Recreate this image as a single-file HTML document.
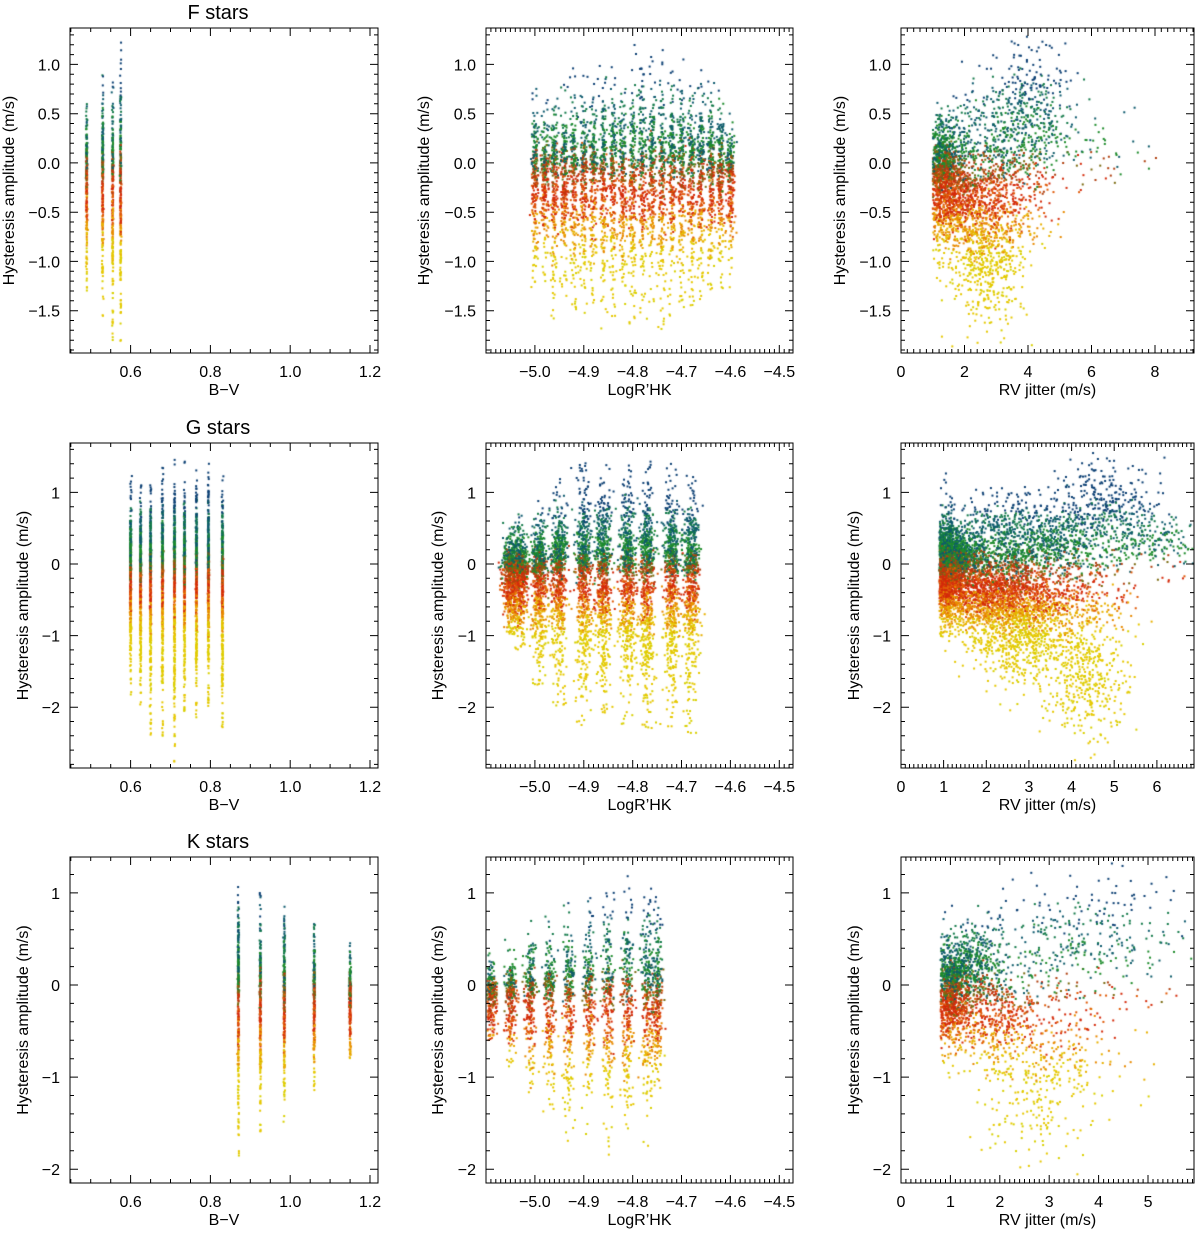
<!DOCTYPE html>
<html><head><meta charset="utf-8">
<style>
html,body{margin:0;padding:0;background:#fff;width:1200px;height:1237px;overflow:hidden}
#wrap{position:relative;width:1200px;height:1237px}
svg,canvas{position:absolute;left:0;top:0}
text{font-family:"Liberation Sans",sans-serif;fill:#000}
</style></head>
<body>
<div id="wrap">
<canvas id="pts" width="1200" height="1237"></canvas>
<svg id="ax" width="1200" height="1237"></svg>
</div>
<script>
// ---------- data ----------
const fBV=[0.49,0.53,0.555,0.575];
const fBVmax=[0.75,1.0,1.1,1.3];
const fBVmin=[-1.35,-1.6,-1.85,-1.9];
const gBV=[0.6,0.625,0.65,0.68,0.71,0.735,0.765,0.795,0.83];
const gBVmax=[1.25,1.2,1.3,1.42,1.47,1.47,1.42,1.48,1.3];
const gBVmin=[-1.9,-2.0,-2.4,-2.4,-2.8,-2.1,-2.2,-2.0,-2.3];
const kBV=[0.87,0.925,0.985,1.06,1.15];
const kBVmax=[1.25,1.05,0.98,0.7,0.53];
const kBVmin=[-1.95,-1.75,-1.55,-1.15,-0.8];
const fLR=[-5.0,-4.98,-4.96,-4.94,-4.92,-4.9,-4.88,-4.86,-4.84,-4.82,-4.8,-4.78,-4.76,-4.74,-4.72,-4.7,-4.68,-4.66,-4.64,-4.62,-4.6];
const fLRmax=[0.8,0.75,0.9,0.8,1.0,0.9,1.0,1.05,1.1,1.0,1.2,1.1,1.2,1.3,1.1,1.15,1.0,1.1,1.05,0.9,0.55];
const fLRmin=[-1.3,-1.2,-1.6,-1.4,-1.5,-1.6,-1.5,-1.7,-1.6,-1.5,-1.7,-1.6,-1.5,-1.7,-1.6,-1.5,-1.6,-1.4,-1.5,-1.3,-1.3];
const gLR=[-5.05,-5.03,-4.99,-4.95,-4.9,-4.86,-4.81,-4.77,-4.72,-4.68];
const gLRmax=[0.6,0.7,0.9,1.2,1.45,1.45,1.4,1.45,1.45,1.3];
const gLRmin=[-1.0,-1.2,-1.7,-2.0,-2.3,-2.1,-2.3,-2.4,-2.3,-2.4];
const kLR=[-5.17,-5.13,-5.09,-5.05,-5.01,-4.97,-4.93,-4.89,-4.85,-4.81,-4.77,-4.75];
const kLRmax=[0.2,0.3,0.4,0.5,0.7,0.8,0.9,1.0,1.1,1.2,1.25,1.0];
const kLRmin=[-0.3,-0.5,-0.6,-0.9,-1.2,-1.5,-1.7,-1.7,-1.9,-1.9,-1.8,-1.2];
const fJx=[1.5,2.4,2.8,3.5,4.2,6.5,1.3];
const fJy=[-0.2,-0.45,-1.0,0.2,0.7,0.1,0.0];
const fJsx=[0.35,0.8,0.55,1.0,0.6,1.0,0.2];
const fJsy=[0.3,0.3,0.35,0.33,0.25,0.15,0.2];
const fJn=[800,900,450,700,150,40,400];
const gJx=[1.1,2.0,3.2,2.8,4.3,3.0,4.8,6.0,1.3];
const gJy=[-0.1,-0.4,-0.6,-1.1,-1.6,0.3,0.8,0.3,0.1];
const gJsx=[0.2,0.7,0.9,0.5,0.5,1.2,0.6,0.5,0.3];
const gJsy=[0.3,0.3,0.3,0.3,0.4,0.3,0.3,0.2,0.15];
const gJn=[1500,1500,1000,350,400,1500,300,150,600];
const kJx=[1.0,1.4,1.8,3.0,2.7,3.2,4.5];
const kJy=[-0.1,0.2,-0.35,-0.7,-1.3,0.4,0.6];
const kJsx=[0.2,0.3,0.5,0.8,0.6,1.0,0.8];
const kJsy=[0.25,0.2,0.25,0.35,0.3,0.35,0.35];
const kJn=[800,500,500,300,120,300,100];
const bvTicks=[0.6,0.8,1.0,1.2];
const lrTicks=[-5.0,-4.9,-4.8,-4.7,-4.6,-4.5];
const fRVTicks=[0,2,4,6,8];
const gRVTicks=[0,1,2,3,4,5,6];
const kRVTicks=[0,1,2,3,4,5];
const fYTicks=[1.0,0.5,0.0,-0.5,-1.0,-1.5];
const gYTicks=[1,0,-1,-2];
const kYTicks=[1,0,-1,-2];

// ---------- helpers ----------
const NS='http://www.w3.org/2000/svg';
const svg=document.getElementById('ax');
const ctx=document.getElementById('pts').getContext('2d');
let seed=12345;
function rnd(){seed|=0;seed=seed+0x6D2B79F5|0;let t=Math.imul(seed^seed>>>15,1|seed);t=t+Math.imul(t^t>>>7,61|t)^t;return((t^t>>>14)>>>0)/4294967296;}
function gauss(){let u=rnd()||1e-9,v=rnd();return Math.sqrt(-2*Math.log(u))*Math.cos(2*Math.PI*v);}
function el(tag,attrs,parent){const e=document.createElementNS(NS,tag);for(const k in attrs)e.setAttribute(k,attrs[k]);(parent||svg).appendChild(e);return e;}
function colorFor(y){
  const v=y+gauss()*0.12;
  if(v>0.75)return '#0b3f73';
  if(v>0.4)return rnd()<0.5?'#0d5a6e':'#137a4a';
  if(v>0.0)return rnd()<0.6?'#1e8c2c':'#0e5c6a';
  if(v>-0.15)return rnd()<0.5?'#7a6a10':'#b04010';
  if(v>-0.55)return rnd()<0.6?'#d42a0a':'#e05a08';
  if(v>-0.85)return rnd()<0.5?'#e88a00':'#e8b000';
  return rnd()<0.7?'#e6c800':'#d8d000';
}
function makeAxes(p){
  const g=el('g',{});
  
  
  const X=v=>p.x0+(v-p.xd[0])/(p.xd[1]-p.xd[0])*(p.x1-p.x0);
  const Y=v=>p.y1-(v-p.yd[0])/(p.yd[1]-p.yd[0])*(p.y1-p.y0);
  p.X=X;p.Y=Y;
  el('rect',{x:p.x0,y:p.y0,width:p.x1-p.x0,height:p.y1-p.y0,fill:'none',stroke:'#000','stroke-width':1},g);
  let d='';
  const xs=Math.ceil(p.xd[0]/p.xm-1e-6);
  for(let i=xs;i*p.xm<=p.xd[1]+1e-9;i++){const v=i*p.xm,px=X(v).toFixed(1);
    const maj=Math.abs(v/p.xM-Math.round(v/p.xM))<1e-6;const L=maj?8:4;
    d+=`M${px},${p.y1}v${-L}M${px},${p.y0}v${L}`;}
  const ys=Math.ceil(p.yd[0]/p.ym-1e-6);
  for(let i=ys;i*p.ym<=p.yd[1]+1e-9;i++){const v=i*p.ym,py=Y(v).toFixed(1);
    const maj=Math.abs(v/p.yM-Math.round(v/p.yM))<1e-6;const L=maj?8:4;
    d+=`M${p.x0},${py}h${L}M${p.x1},${py}h${-L}`;}
  el('path',{d:d,stroke:'#000','stroke-width':1,fill:'none'},g);
  p.xt.forEach(v=>{const t=el('text',{x:X(v),y:p.y1+24,'font-size':16,'text-anchor':'middle'},g);
    t.textContent=(v<0?'\u2212':'')+Math.abs(v).toFixed(p.xdec);
    });
  p.yt.forEach(v=>{const t=el('text',{x:p.x0-10,y:Y(v)+6,'font-size':16,'text-anchor':'end'},g);
    t.textContent=(v<0?'\u2212':'')+Math.abs(v).toFixed(p.ydec);
    });
  const xl=el('text',{x:(p.x0+p.x1)/2,y:p.y1+42,'font-size':16,'text-anchor':'middle'},g);
  xl.textContent=p.xlab;
  const yl=el('text',{x:p.ylx,y:(p.y0+p.y1)/2,'font-size':16,'text-anchor':'middle',transform:`rotate(-90 ${p.ylx} ${(p.y0+p.y1)/2})`},g);
  yl.textContent='Hysteresis amplitude (m/s)';
  return p;
}
function dot(p,x,y){const px=p.X(x),py=p.Y(y);
  if(px<p.x0+1||px>p.x1-1||py<p.y0+1||py>p.y1-1)return;
  ctx.fillStyle=colorFor(y);ctx.fillRect(px-1,py-1,2,2);}
function streaks(p,xs,ymax,ymin,n,xj){
  xs.forEach((x,i)=>{for(let k=0;k<n;k++){
    const top=ymax[i],bot=ymin[i];
    let g=gauss()*0.4;
    let y=g>=0?g*top/1.15:g*(-bot)/1.15;
    y-=0.12;
    if(rnd()<0.06)y=bot+rnd()*(top-bot);
    if(y>top)y=top-rnd()*0.1; if(y<bot)y=bot+rnd()*0.1;
    dot(p,x+gauss()*xj,y);}});
}
function clouds(p,cx,cy,sx,sy,cn){
  cx.forEach((x,i)=>{for(let k=0;k<cn[i];k++){
    let xx=x+gauss()*sx[i]; if(xx<p.xmin)xx=p.xmin+rnd()*0.3;
    dot(p,xx,cy[i]+gauss()*sy[i]);}});
}
// ---------- layout ----------
const cols=[[70,378],[486,793],[901,1194]];
const rows=[[28,353],[443,768],[857,1183]];
const titles=['F stars','G stars','K stars'];
titles.forEach((t,i)=>{const e=el('text',{x:218,y:rows[i][0]-9,'font-size':20,'text-anchor':'middle'});e.textContent=t;
  });
const yds=[[-1.93,1.37],[-2.85,1.69],[-2.15,1.39]];
const ymins=[0.1,0.2,0.2],ymajs=[0.5,1,1],ydecs=[1,0,0];
const yts=[fYTicks,gYTicks,kYTicks];
const ylx=[[14,429,845],[28,443,859],[28,443,859]];
const rvd=[[0,9.23],[0,6.87],[0,5.93]],rvm=[0.2,0.1,0.1],rvM=[2,1,1],rvT=[fRVTicks,gRVTicks,kRVTicks];
const P=[];
for(let r=0;r<3;r++){
  const base={y0:rows[r][0],y1:rows[r][1],yd:yds[r],ym:ymins[r],yM:ymajs[r],yt:yts[r],ydec:ydecs[r]};
  P.push([
    makeAxes(Object.assign({},base,{name:'panel-bv-'+r,x0:cols[0][0],x1:cols[0][1],xd:[0.448,1.22],xm:0.05,xM:0.2,xt:bvTicks,xdec:1,xlab:'B\u2212V',ylx:ylx[r][0]})),
    makeAxes(Object.assign({},base,{name:'panel-logrhk-'+r,x0:cols[1][0],x1:cols[1][1],xd:[-5.1,-4.472],xm:0.01,xM:0.1,xt:lrTicks,xdec:1,xlab:"LogR\u2019HK",ylx:ylx[r][1]})),
    makeAxes(Object.assign({},base,{name:'panel-jitter-'+r,x0:cols[2][0],x1:cols[2][1],xd:rvd[r],xm:rvm[r],xM:rvM[r],xt:rvT[r],xdec:0,xlab:'RV jitter (m/s)',ylx:ylx[r][2]}))
  ]);
}
P[0][2].xmin=1.0;P[1][2].xmin=0.9;P[2][2].xmin=0.8;
streaks(P[0][0],fBV,fBVmax,fBVmin,260,0.0008);
streaks(P[1][0],gBV,gBVmax,gBVmin,420,0.0008);
streaks(P[2][0],kBV,kBVmax,kBVmin,320,0.0008);
streaks(P[0][1],fLR,fLRmax,fLRmin,230,0.004);
streaks(P[1][1],gLR,gLRmax,gLRmin,650,0.008);
streaks(P[2][1],kLR,kLRmax,kLRmin,260,0.006);
clouds(P[0][2],fJx,fJy,fJsx,fJsy,fJn);
clouds(P[1][2],gJx,gJy,gJsx,gJsy,gJn);
clouds(P[2][2],kJx,kJy,kJsx,kJsy,kJn);
</script>
</body></html>
